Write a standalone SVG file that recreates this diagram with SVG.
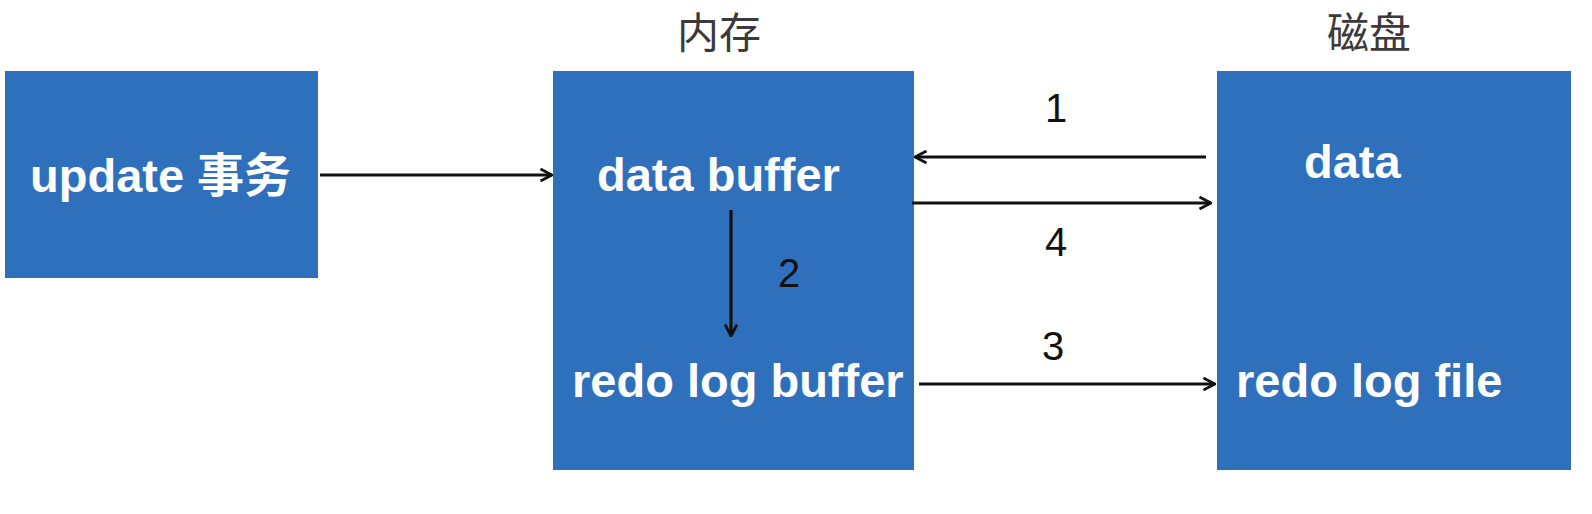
<svg xmlns="http://www.w3.org/2000/svg" width="1592" height="514" viewBox="0 0 1592 514">
<style>
.box{fill:#2F70BD;}
.lbl{font-family:"Liberation Sans","Noto Sans CJK SC",sans-serif;font-weight:bold;font-size:47px;fill:#ffffff;}
.title{font-family:"Noto Sans CJK SC",sans-serif;font-size:42px;fill:#3a3a3a;}
.num{font-family:"Liberation Sans",sans-serif;font-size:40px;fill:#111;}
.edge{stroke:#111;stroke-width:3.2;fill:none;marker-end:url(#ah);}
</style>
<defs>
<marker id="ah" viewBox="0 0 14 14" refX="13" refY="7" markerWidth="14" markerHeight="14" markerUnits="userSpaceOnUse" orient="auto">
<path d="M1.5,1 L13,7 L1.5,13" fill="none" stroke="#111" stroke-width="2.8"/>
</marker>
</defs>
<rect width="1592" height="514" fill="#ffffff"/>
<text class="title" x="719" y="48" text-anchor="middle">内存</text>
<text class="title" x="1369" y="48" text-anchor="middle">磁盘</text>
<g id="node-update">
<rect class="box" x="5" y="71" width="313" height="207"/>
<text class="lbl" x="30" y="192">update 事务</text>
</g>
<g id="node-memory">
<rect class="box" x="553" y="71" width="361" height="399"/>
<text class="lbl" x="597" y="191">data buffer</text>
<text class="lbl" x="572" y="397">redo log buffer</text>
</g>
<g id="node-disk">
<rect class="box" x="1217" y="71" width="354" height="399"/>
<text class="lbl" x="1304" y="178">data</text>
<text class="lbl" x="1236" y="397">redo log file</text>
</g>
<g id="connectors">
<line class="edge" x1="320" y1="175" x2="552" y2="175"/>
<line class="edge" x1="1206" y1="157" x2="915" y2="157"/>
<line class="edge" x1="912" y1="203" x2="1211" y2="203"/>
<line class="edge" x1="731" y1="210" x2="731" y2="336"/>
<line class="edge" x1="919" y1="384" x2="1215" y2="384"/>
<text class="num" x="1056" y="122" text-anchor="middle">1</text>
<text class="num" x="789" y="287" text-anchor="middle">2</text>
<text class="num" x="1053" y="360" text-anchor="middle">3</text>
<text class="num" x="1056" y="256" text-anchor="middle">4</text>
</g>
</svg>
